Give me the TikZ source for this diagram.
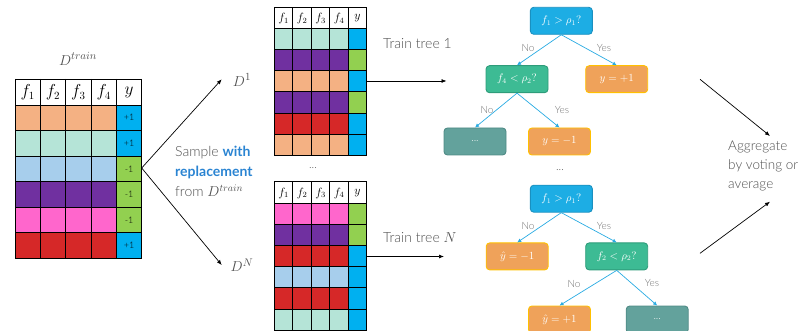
\documentclass[tikz,border=0pt]{standalone}
\usepackage{fontspec}
\setmainfont{Lato}[UprightFont=* Light, BoldFont=* Bold]
\usetikzlibrary{arrows.meta}
\definecolor{peach}{HTML}{F4B183}
\definecolor{mint}{HTML}{B5E4D7}
\definecolor{lblue}{HTML}{A7CEEC}
\definecolor{purp}{HTML}{7030A0}
\definecolor{pinkc}{HTML}{FF66CC}
\definecolor{redc}{HTML}{D62828}
\definecolor{ycyan}{HTML}{00B0F0}
\definecolor{ygreen}{HTML}{92D050}
\definecolor{txtgray}{HTML}{505050}
\definecolor{wblue}{HTML}{2A84D2}
\definecolor{nodeblue}{HTML}{1DADE4}
\definecolor{nodeblueb}{HTML}{1A90C0}
\definecolor{nodegreen}{HTML}{3DBB94}
\definecolor{nodegreenb}{HTML}{2E9C7A}
\definecolor{nodeorange}{HTML}{EFA25A}
\definecolor{nodeyellow}{HTML}{FFC000}
\definecolor{nodeteal}{HTML}{63A29C}
\definecolor{nodetealb}{HTML}{4F8A85}
\definecolor{edgeblue}{HTML}{29ABE2}
\tikzset{
  gridline/.style={black, line width=0.8pt},
  ylab/.style={font=\fontsize{9}{9}\selectfont, text=black},
  tnode/.style={rounded corners=3.5pt, minimum width=62pt, minimum height=27pt,
    text=white, font=\fontsize{10.5}{12}\selectfont, line width=0.9pt, inner sep=1pt},
  bluenode/.style={tnode, fill=nodeblue, draw=nodeblueb},
  greennode/.style={tnode, fill=nodegreen, draw=nodegreenb},
  orangenode/.style={tnode, fill=nodeorange, draw=nodeyellow},
  tealnode/.style={tnode, fill=nodeteal, draw=nodetealb},
  tedge/.style={edgeblue, line width=0.7pt, -{Latex[length=4pt,width=4pt]}},
  elab/.style={text=txtgray!80, font=\fontsize{10}{12}\selectfont},
  bigarrow/.style={black, line width=0.7pt, -{Latex[length=5pt,width=4pt]}},
  graytext/.style={text=txtgray, font=\fontsize{14}{19}\selectfont},
}
\newcommand\bagtab[8]{%
\foreach \fc/\yc/\lab [count=\i] in {#8}{
  \fill[\fc] ({#2},{#3+#5+(\i-1)*#6}) rectangle ++({4*#4},{#6});
  \fill[\yc] ({#2+4*#4},{#3+#5+(\i-1)*#6}) rectangle ++({#4},{#6});
  \node[ylab] (#1y\i) at ({#2+4.5*#4},{#3+#5+(\i-0.5)*#6}) {\lab};
}
\foreach \k in {0,...,5} \draw[gridline] ({#2+\k*#4},{#3}) -- ++(0,{#5+6*#6});
\draw[gridline] ({#2},{#3}) -- ++({5*#4},0);
\foreach \k in {0,...,6} \draw[gridline] ({#2},{#3+#5+\k*#6}) -- ++({5*#4},0);
\foreach \t [count=\k] in {f_1,f_2,f_3,f_4,y}
  \node[font=\fontsize{#7}{#7}\selectfont, inner sep=0pt] (#1h\k) at ({#2+(\k-0.5)*#4},{#3+#5/2+0.5}) {$\t$};
}
\begin{document}
\begin{tikzpicture}[x=1pt,y=-1pt]
\useasboundingbox (0,0) rectangle (810,331);
% tables
\bagtab{tr}{15}{79}{25.34}{26}{25.55}{16}{peach/ycyan/+1,mint/ycyan/+1,lblue/ygreen/-1,purp/ygreen/-1,pinkc/ygreen/-1,redc/ycyan/+1}
\bagtab{da}{274.3}{7.3}{18.5}{21}{21.17}{12}{mint/ycyan/{},purp/ygreen/{},peach/ycyan/{},purp/ygreen/{},redc/ycyan/{},peach/ycyan/{}}
\bagtab{dn}{274.3}{181.7}{18.5}{21.6}{21.12}{12}{pinkc/ygreen/{},purp/ygreen/{},redc/ycyan/{},lblue/ycyan/{},redc/ycyan/{},mint/ycyan/{}}
% labels
\node[font=\fontsize{15}{15}\selectfont, text=txtgray] (dtrain) at (78,59) {$D^{train}$};
\node[font=\fontsize{15}{15}\selectfont, text=txtgray] (done) at (242,80) {$D^1$};
\node[font=\fontsize{15}{15}\selectfont, text=txtgray] (dN) at (242,265) {$D^N$};
\coordinate (trR) at (141.7,168);
\coordinate (doneTip) at (221.7,79.3);
\coordinate (dNTip) at (221.7,265);
\draw[bigarrow] (trR) -- (doneTip);
\draw[bigarrow] (trR) -- (dNTip);
\node[graytext, anchor=west, inner sep=0pt] (s1) at (175,153) {Sample \textcolor{wblue}{\bfseries with}};
\node[graytext, anchor=west, inner sep=0pt] (s2) at (175,172) {\textcolor{wblue}{\bfseries replacement}};
\node[graytext, anchor=west, inner sep=0pt] (s3) at (175,191) {from $D^{train}$};
\node[text=txtgray, font=\fontsize{11}{12}\selectfont] (dots0) at (313,168) {...};
% train arrows
\coordinate (daR) at (366.8,81);
\coordinate (daTip) at (446.5,81);
\coordinate (dnR) at (366.8,256.5);
\coordinate (dnTip) at (444,256.5);
\draw[bigarrow] (daR) -- (daTip);
\draw[bigarrow] (dnR) -- (dnTip);
\node[graytext, anchor=west, inner sep=0pt] (tt1) at (383,44) {Train tree 1};
\node[graytext, anchor=west, inner sep=0pt] (ttN) at (383,238) {Train tree $N$};
% tree 1
\node[bluenode] (r1) at (561.3,20.8) {$f_1>\rho_1?$};
\node[greennode] (c1) at (517,79.2) {$f_4<\rho_2?$};
\node[orangenode] (p1) at (616.7,79.2) {$y=+1$};
\node[tealnode] (e1) at (475,141.5) {...};
\node[orangenode] (m1) at (559.5,141.5) {$y=-1$};
\draw[tedge] (r1.south) -- (c1.north);
\draw[tedge] (r1.south) -- (p1.north);
\draw[tedge] (c1.south) -- (e1.north);
\draw[tedge] (c1.south) -- (m1.north);
\node[elab] (n1a) at (528,48) {No};
\node[elab] (y1a) at (604,48) {Yes};
\node[elab] (n1b) at (487,110) {No};
\node[elab] (y1b) at (562,110) {Yes};
\node[text=txtgray, font=\fontsize{11}{12}\selectfont] (dots1) at (560,170) {...};
% tree N
\node[bluenode] (r2) at (561.3,198.7) {$f_1>\rho_1?$};
\node[orangenode] (m2) at (517.2,256.4) {$\hat{y}=-1$};
\node[greennode] (c2) at (616.7,256.4) {$f_2<\rho_2?$};
\node[orangenode] (p2) at (559.5,319.5) {$\hat{y}=+1$};
\node[tealnode] (e2) at (657.2,319.5) {...};
\draw[tedge] (r2.south) -- (m2.north);
\draw[tedge] (r2.south) -- (c2.north);
\draw[tedge] (c2.south) -- (p2.north);
\draw[tedge] (c2.south) -- (e2.north);
\node[elab] (n2a) at (528,226) {No};
\node[elab] (y2a) at (604,226) {Yes};
\node[elab] (n2b) at (574,284) {No};
\node[elab] (y2b) at (652,283) {Yes};
% aggregate
\coordinate (ag1s) at (700,79.3);
\coordinate (ag1t) at (770,136);
\coordinate (ag2s) at (700,253.3);
\coordinate (ag2t) at (770,201.7);
\draw[bigarrow] (ag1s) -- (ag1t);
\draw[bigarrow] (ag2s) -- (ag2t);
\node[graytext, anchor=north west, align=left, inner sep=0pt, font=\fontsize{13.5}{19}\selectfont] (agg) at (728,141) {Aggregate\\by voting or\\average};
\end{tikzpicture}
\end{document}
